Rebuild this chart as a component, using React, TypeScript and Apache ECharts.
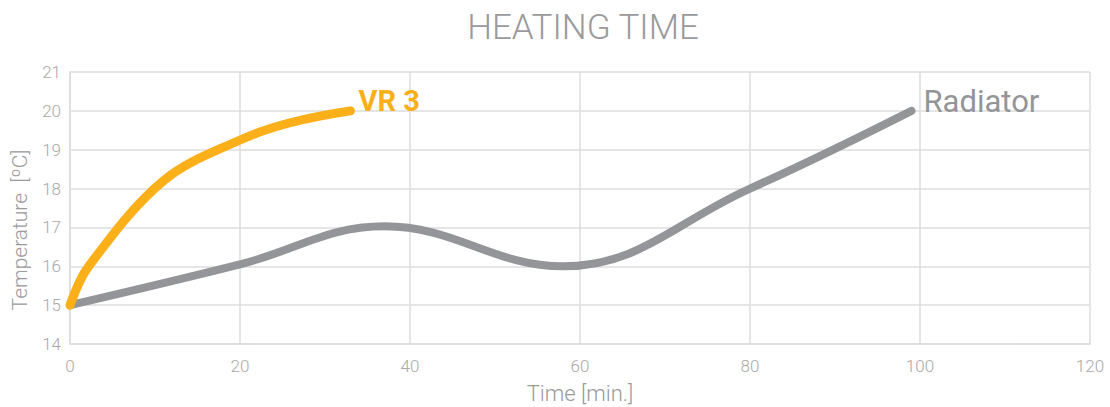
import React, { useEffect, useRef } from "react";
import * as echarts from "echarts";

const vr3Data: [number, number][] = [
  [0, 15], [2.2, 16], [11, 18.2], [20, 19.25], [26, 19.7], [33, 20],
];
const radiatorData: [number, number][] = [
  [0, 15], [20, 16.05], [37, 17.03], [58, 16], [80, 18], [99, 20],
];
const seriesNames = ["VR 3", "Radiator"];
const titleText = "HEATING TIME";
const xName = "Time [min.]";
const yName = "Temperature  [ºC]";

export default function App() {
  const ref = useRef<HTMLDivElement>(null);
  useEffect(() => {
    const chart = echarts.init(ref.current!, null, { renderer: "svg" });
    const font = "Roboto";
    chart.setOption({
      animation: false,
      title: {
        text: titleText,
        left: 578,
        top: 5,
        textAlign: "center",
        textStyle: { fontFamily: font, fontWeight: 300, fontSize: 35, color: "#9a9a9c" },
      },
      grid: { left: 70, right: 20, top: 72, bottom: 63, outerBoundsMode: "none", containLabel: false },
      xAxis: {
        type: "value",
        min: 0,
        max: 120,
        interval: 20,
        name: xName,
        nameLocation: "middle",
        nameGap: 38,
        nameTextStyle: { fontFamily: font, fontWeight: 300, fontSize: 22, color: "#9a9a9c" },
        axisLine: { show: true, lineStyle: { color: "#dcdcdc", width: 1.5 } },
        axisTick: { show: false },
        axisLabel: { fontFamily: font, fontWeight: 300, fontSize: 17, color: "#a8a8a8", margin: 13 },
        splitLine: { show: true, lineStyle: { color: "#dcdcdc", width: 1.5 } },
      },
      yAxis: {
        type: "value",
        min: 14,
        max: 21,
        interval: 1,
        axisLine: { show: true, lineStyle: { color: "#dcdcdc", width: 1.5 } },
        axisTick: { show: false },
        axisLabel: { fontFamily: font, fontWeight: 300, fontSize: 17, color: "#a8a8a8", margin: 9 },
        splitLine: { show: true, lineStyle: { color: "#dcdcdc", width: 1.5 } },
      },
      graphic: [
        {
          type: "text",
          x: 20,
          y: 230,
          rotation: Math.PI / 2,
          style: {
            text: yName,
            fontFamily: font,
            fontWeight: 300,
            fontSize: 21,
            fill: "#9a9a9c",
            align: "center",
            verticalAlign: "middle",
          },
        },
      ],
      series: [
        {
          name: seriesNames[1],
          type: "line",
          data: radiatorData,
          smooth: 0.4,
          showSymbol: false,
          lineStyle: { color: "#939598", width: 8, cap: "round", join: "round" },
          endLabel: {
            show: true,
            formatter: "{a}",
            fontFamily: font,
            fontWeight: 400,
            fontSize: 31,
            color: "#939598",
            distance: 12,
            offset: [0, -9],
          },
          z: 2,
        },
        {
          name: seriesNames[0],
          type: "line",
          data: vr3Data,
          smooth: 0.35,
          showSymbol: false,
          lineStyle: { color: "#fbb01a", width: 9, cap: "round", join: "round" },
          endLabel: {
            show: true,
            formatter: "{a}",
            fontFamily: font,
            fontWeight: 700,
            fontSize: 29,
            color: "#fbb01a",
            distance: 8,
            offset: [0, -10],
          },
          z: 3,
        },
      ],
    });
    return () => chart.dispose();
  }, []);
  return (
    <div
      ref={ref}
      style={{ position: "fixed", left: 0, top: 0, width: 1110, height: 407, background: "#fff" }}
    />
  );
}
